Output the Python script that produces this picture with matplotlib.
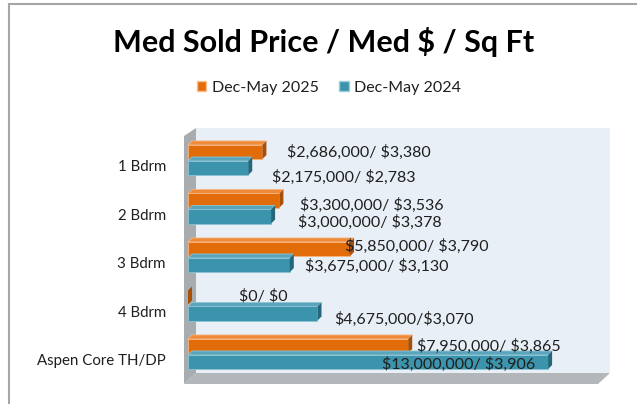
"""Median sold price / median $ per sq ft, Excel-style 3D horizontal bars."""

import matplotlib

matplotlib.use("Agg")

import matplotlib.pyplot as plt  # noqa: E402
from matplotlib.patches import Polygon  # noqa: E402

plt.rcParams["font.family"] = ["Lato", "DejaVu Sans"]

categories = ["1 Bdrm", "2 Bdrm", "3 Bdrm", "4 Bdrm", "Aspen Core TH/DP"]
series_names = ["Dec-May 2025", "Dec-May 2024"]
price_2025 = [2686000, 3300000, 5850000, 0, 7950000]
price_2024 = [2175000, 3000000, 3675000, 4675000, 13000000]
labels_2025 = ["$2,686,000/ $3,380", "$3,300,000/ $3,536", "$5,850,000/ $3,790",
               "$0/ $0", "$7,950,000/ $3,865"]
labels_2024 = ["$2,175,000/ $2,783", "$3,000,000/ $3,378", "$3,675,000/ $3,130",
               "$4,675,000/$3,070", "$13,000,000/ $3,906"]

# label nudges in pixels (dx from bar end, dy from bar centre), as dragged in Excel
offsets_2025 = [(25, 0), (21, -5), (-5, 3), (51, 1), (9, 0)]
offsets_2024 = [(24, -9), (27, -6), (15, -1), (17, -6), (-166, -2)]

W, H = 637, 404
ORANGE, ORANGE_TOP, ORANGE_SIDE = "#E36C0A", "#EE8A3A", "#A8500A"
BLUE, BLUE_TOP, BLUE_SIDE = "#3C93AC", "#5AA5BB", "#24677A"
TEXT = "#1f1f1f"


def px(x, y):
    return (x / W, 1 - y / H)


fig = plt.figure(figsize=(W / 100, H / 100), dpi=100)

# chart border (left and top are visible in the crop)
fig.add_artist(plt.Line2D([9 / W, 9 / W], [0, 1 - 4 / H], color="#a6a6a6", lw=1.5))
fig.add_artist(plt.Line2D([9 / W, 1], [1 - 4 / H, 1 - 4 / H], color="#a6a6a6", lw=1.5))

# walls and floor
for pts, col in [
    ([(196, 128), (610, 128), (610, 373), (196, 373)], "#E8EFF6"),
    ([(184, 136), (196, 128), (196, 373), (184, 384)], "#A9ACAF"),
    ([(184, 384), (196, 373), (610, 373), (598, 384)], "#B4B7BA"),
]:
    fig.add_artist(Polygon([px(*p) for p in pts], closed=True, transform=fig.transFigure,
                           facecolor=col, edgecolor="none", zorder=-5))

left, right, top, bottom = 184, 610, 128, 384
ax = fig.add_axes([left / W, 1 - bottom / H, (right - left) / W, (bottom - top) / H])
ax.patch.set_visible(False)

ppm = 27.7e-6  # pixels per dollar
x0 = 188
ax.set_xlim(-(x0 - left) / ppm, (right - x0) / ppm)
step = 48.5
y_first = 160
ax.set_ylim((bottom - y_first) / step, (top - y_first) / step)

pos = list(range(len(categories)))
h = 0.29
shift = 0.165
dx = 4 / ppm
dy = 4 / step

for vals, off, face, topc, side, edge in [
    (price_2025, -shift, ORANGE, ORANGE_TOP, ORANGE_SIDE, "#F8B57E"),
    (price_2024, shift, BLUE, BLUE_TOP, BLUE_SIDE, "#8CC4D4"),
]:
    ys = [p + off for p in pos]
    ax.barh(ys, vals, height=h, color=face, edgecolor=edge, linewidth=0.6, zorder=3)
    for y, v in zip(ys, vals):
        t, b = y - h / 2, y + h / 2
        if v > 0:
            ax.add_patch(Polygon([(0, t), (v, t), (v + dx, t - dy), (dx, t - dy)],
                                 closed=True, facecolor=topc, edgecolor=edge,
                                 linewidth=0.6, zorder=3))
        ax.add_patch(Polygon([(v, t), (v + dx, t - dy), (v + dx, b - dy), (v, b)],
                             closed=True, facecolor=side, edgecolor="none", zorder=3))

for vals, labs, offs, off in [
    (price_2025, labels_2025, offsets_2025, -shift),
    (price_2024, labels_2024, offsets_2024, shift),
]:
    for p, v, lab, (ox, oy) in zip(pos, vals, labs, offs):
        ax.annotate(lab.replace("$", r"\$"), (v, p + off), xytext=(ox, oy),
                    textcoords="offset pixels", ha="left", va="center",
                    fontsize=11.5, color=TEXT, zorder=5)

ax.set_yticks([p + 0.12 for p in pos])
ax.set_yticklabels(categories, fontsize=10.8, color=TEXT)
ax.tick_params(axis="y", length=0, pad=13)
ax.set_xticks([])
for s in ax.spines.values():
    s.set_visible(False)

fig.text(324 / W, 1 - 42 / H, r"Med Sold Price / Med \$ / Sq Ft", ha="center", va="center",
         fontsize=22, fontweight="bold", color="black")

handles = [plt.Rectangle((0, 0), 1, 1, facecolor=ORANGE, edgecolor="#FAC090"),
           plt.Rectangle((0, 0), 1, 1, facecolor=BLUE, edgecolor="#9CCFDD")]
fig.legend(handles, series_names, loc="center", bbox_to_anchor=(329 / W, 1 - 88 / H),
           ncol=2, frameon=False, fontsize=11.5, handlelength=0.6, handleheight=0.6,
           handletextpad=0.35, columnspacing=1.3, labelcolor=TEXT)

fig.savefig("out.png", dpi=100)
